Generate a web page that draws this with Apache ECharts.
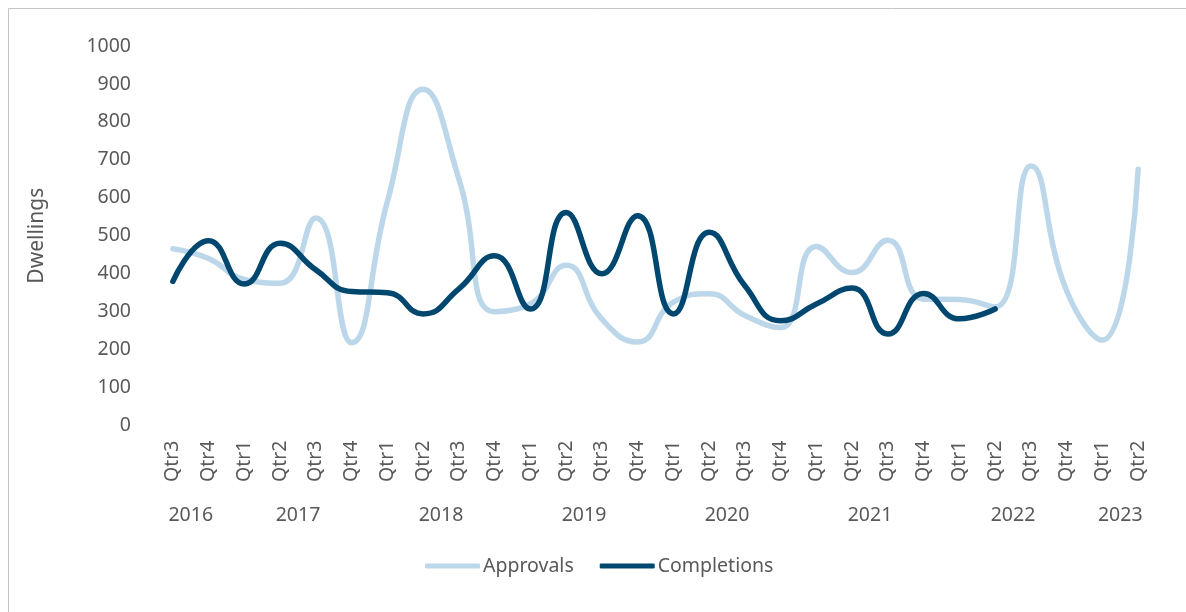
<!DOCTYPE html>
<html>
<head>
<meta charset="utf-8">
<script src="https://cdn.jsdelivr.net/npm/echarts@6/dist/echarts.min.js"></script>
<style>
  html, body { margin: 0; padding: 0; background: #ffffff; overflow: hidden; }
  #chart { width: 1186px; height: 612px; }
</style>
</head>
<body>
<div id="chart"></div>
<script>
// Quarterly dwelling approvals and completions, 2016 Qtr3 – 2023 Qtr2
const quarters = [
  'Qtr3','Qtr4',
  'Qtr1','Qtr2','Qtr3','Qtr4',
  'Qtr1','Qtr2','Qtr3','Qtr4',
  'Qtr1','Qtr2','Qtr3','Qtr4',
  'Qtr1','Qtr2','Qtr3','Qtr4',
  'Qtr1','Qtr2','Qtr3','Qtr4',
  'Qtr1','Qtr2','Qtr3','Qtr4',
  'Qtr1','Qtr2'
];
const years = ['2016','2017','2018','2019','2020','2021','2022','2023'];
const quartersPerYear = [2, 4, 4, 4, 4, 4, 4, 2];

const approvals = [
  466, 440,
  385, 375, 547, 218,
  590, 886, 650, 300,
  320, 422, 280, 220,
  325, 347, 290, 258,
  472, 403, 488, 333,
  332, 312, 684, 355,
  225, 675
];
const completions = [
  380, 487,
  373, 480, 410, 353,
  350, 294, 360, 447,
  307, 561, 400, 553,
  294, 509, 368, 276,
  320, 362, 241, 348,
  281, 307
];

const yTicks = { min: 0, max: 1000, interval: 100 };

// Year labels sit at the centre of each year's run of quarters
const yearAt = {};
let start = 0;
years.forEach((y, i) => {
  yearAt[start + quartersPerYear[i] / 2] = y;
  start += quartersPerYear[i];
});

const textColor = '#595959';
const font = '"Noto Sans", "Open Sans", sans-serif';

const chart = echarts.init(document.getElementById('chart'), null, { renderer: 'canvas' });
chart.setOption({
  animation: false,
  backgroundColor: '#ffffff',
  textStyle: { fontFamily: font, color: textColor },
  graphic: [{
    type: 'rect',
    left: 6, top: 6,
    shape: { width: 1300, height: 700 },
    style: { fill: null, stroke: '#c4c4c4', lineWidth: 1 },
    silent: true, z: -10
  }],
  grid: { left: 155, right: 30, top: 46, bottom: 186.5, containLabel: false },
  legend: {
    left: 420,
    top: 551,
    icon: 'roundRect',
    itemWidth: 55,
    itemHeight: 5,
    itemGap: 26,
    textStyle: { fontFamily: font, fontSize: 19.5, color: textColor, padding: [0, 0, 0, -2] },
    data: ['Approvals', 'Completions']
  },
  xAxis: [{
    type: 'category',
    data: quarters,
    boundaryGap: true,
    axisLine: { show: false },
    axisTick: { show: false },
    splitLine: { show: false },
    axisLabel: {
      interval: 0,
      rotate: 90,
      margin: 15,
      fontFamily: font,
      fontSize: 19.5,
      color: textColor
    }
  }, {
    type: 'value',
    position: 'bottom',
    min: 0,
    max: quarters.length,
    interval: 1,
    axisLine: { show: false },
    axisTick: { show: false },
    splitLine: { show: false },
    axisLabel: {
      showMinLabel: true,
      showMaxLabel: true,
      margin: 80,
      fontFamily: font,
      fontSize: 19.5,
      color: textColor,
      formatter: v => yearAt[v] || ''
    }
  }],
  yAxis: {
    type: 'value',
    min: yTicks.min,
    max: yTicks.max,
    interval: yTicks.interval,
    name: 'Dwellings',
    nameLocation: 'middle',
    nameRotate: 90,
    nameGap: 107,
    nameTextStyle: { fontFamily: font, fontSize: 21, color: textColor },
    axisLine: { show: false },
    axisTick: { show: false },
    splitLine: { show: false },
    axisLabel: {
      margin: 24,
      fontFamily: font,
      fontSize: 19.5,
      color: textColor,
      formatter: v => String(v)
    }
  },
  series: [{
    name: 'Approvals',
    type: 'line',
    data: approvals,
    smooth: 0.5,
    symbol: 'none',
    color: '#BDD7EA',
    lineStyle: { width: 5.5, color: '#BDD7EA', cap: 'round', join: 'round' },
    z: 2
  }, {
    name: 'Completions',
    type: 'line',
    data: completions,
    smooth: 0.5,
    symbol: 'none',
    color: '#00476F',
    lineStyle: { width: 5.5, color: '#00476F', cap: 'round', join: 'round' },
    z: 3
  }]
});
</script>
</body>
</html>
